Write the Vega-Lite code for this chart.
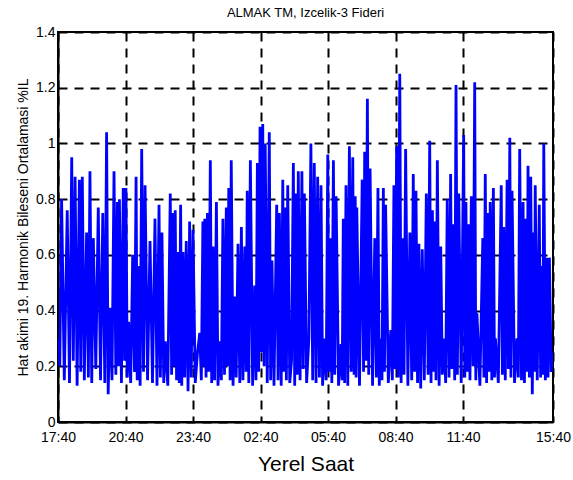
{
  "$schema": "https://vega.github.io/schema/vega-lite/v6.json",
  "width": 495,
  "height": 390,
  "autosize": {"type": "none"},
  "padding": {"left": 58, "top": 32, "right": 20, "bottom": 58},
  "background": "white",
  "title": {"text": "ALMAK TM, Izcelik-3 Fideri", "fontSize": 13, "fontWeight": "normal", "font": "Liberation Sans", "color": "black", "offset": 5, "anchor": "middle"},
  "data": {"values": [
    {"t":0.00,"v":0.30},{"t":0.08,"v":0.20},{"t":0.16,"v":0.80},{"t":0.28,"v":0.15},{"t":0.41,"v":0.76},{"t":0.51,"v":0.14},{"t":0.61,"v":0.95},{"t":0.68,"v":0.22},{"t":0.76,"v":0.88},{"t":0.85,"v":0.13},
    {"t":0.95,"v":0.87},{"t":1.01,"v":0.18},{"t":1.08,"v":0.88},{"t":1.17,"v":0.15},{"t":1.27,"v":0.68},{"t":1.35,"v":0.16},{"t":1.42,"v":0.90},{"t":1.50,"v":0.14},{"t":1.57,"v":0.66},{"t":1.68,"v":0.19},
    {"t":1.79,"v":0.77},{"t":1.89,"v":0.15},{"t":1.99,"v":0.75},{"t":2.08,"v":0.14},{"t":2.16,"v":1.04},{"t":2.23,"v":0.10},{"t":2.31,"v":0.41},{"t":2.40,"v":0.15},{"t":2.49,"v":0.90},{"t":2.57,"v":0.17},
    {"t":2.64,"v":0.79},{"t":2.69,"v":0.20},{"t":2.73,"v":0.80},{"t":2.82,"v":0.14},{"t":2.90,"v":0.84},{"t":2.96,"v":0.22},{"t":3.02,"v":0.84},{"t":3.08,"v":0.16},{"t":3.14,"v":0.36},{"t":3.23,"v":0.14},
    {"t":3.32,"v":0.60},{"t":3.40,"v":0.18},{"t":3.47,"v":0.88},{"t":3.52,"v":0.15},{"t":3.57,"v":0.56},{"t":3.65,"v":0.13},{"t":3.72,"v":0.98},{"t":3.80,"v":0.18},{"t":3.87,"v":0.85},{"t":3.98,"v":0.15},
    {"t":4.09,"v":0.65},{"t":4.20,"v":0.14},{"t":4.31,"v":0.73},{"t":4.40,"v":0.13},{"t":4.49,"v":0.78},{"t":4.55,"v":0.16},{"t":4.62,"v":0.68},{"t":4.70,"v":0.14},{"t":4.77,"v":0.29},{"t":4.88,"v":0.13},
    {"t":4.99,"v":0.82},{"t":5.05,"v":0.17},{"t":5.11,"v":0.75},{"t":5.16,"v":0.20},{"t":5.21,"v":0.76},{"t":5.27,"v":0.15},{"t":5.33,"v":0.61},{"t":5.39,"v":0.14},{"t":5.45,"v":0.78},{"t":5.50,"v":0.13},
    {"t":5.56,"v":0.61},{"t":5.63,"v":0.16},{"t":5.70,"v":0.65},{"t":5.78,"v":0.11},{"t":5.85,"v":0.72},{"t":5.92,"v":0.16},{"t":6.00,"v":0.69},{"t":6.10,"v":0.14},{"t":6.20,"v":0.25},{"t":6.30,"v":0.32},
    {"t":6.37,"v":0.15},{"t":6.44,"v":0.72},{"t":6.48,"v":0.20},{"t":6.52,"v":0.73},{"t":6.58,"v":0.16},{"t":6.64,"v":0.75},{"t":6.70,"v":0.18},{"t":6.77,"v":0.94},{"t":6.83,"v":0.14},{"t":6.89,"v":0.63},
    {"t":6.96,"v":0.15},{"t":7.04,"v":0.79},{"t":7.11,"v":0.13},{"t":7.19,"v":0.29},{"t":7.26,"v":0.15},{"t":7.33,"v":0.73},{"t":7.40,"v":0.17},{"t":7.48,"v":0.77},{"t":7.53,"v":0.20},{"t":7.59,"v":0.84},
    {"t":7.65,"v":0.15},{"t":7.70,"v":0.94},{"t":7.78,"v":0.13},{"t":7.85,"v":0.45},{"t":7.92,"v":0.16},{"t":8.00,"v":0.64},{"t":8.08,"v":0.14},{"t":8.15,"v":0.70},{"t":8.22,"v":0.15},{"t":8.30,"v":0.63},
    {"t":8.36,"v":0.18},{"t":8.41,"v":0.83},{"t":8.48,"v":0.14},{"t":8.55,"v":0.94},{"t":8.65,"v":0.13},{"t":8.74,"v":0.49},{"t":8.80,"v":0.15},{"t":8.86,"v":0.93},{"t":8.92,"v":0.18},{"t":8.98,"v":1.06},
    {"t":9.04,"v":0.25},{"t":9.10,"v":1.07},{"t":9.16,"v":0.20},{"t":9.21,"v":1.00},{"t":9.30,"v":0.14},{"t":9.39,"v":1.04},{"t":9.45,"v":0.15},{"t":9.51,"v":0.58},{"t":9.60,"v":0.13},{"t":9.72,"v":0.78},
    {"t":9.78,"v":0.15},{"t":9.84,"v":0.75},{"t":9.92,"v":0.13},{"t":9.99,"v":0.87},{"t":10.04,"v":0.18},{"t":10.09,"v":0.77},{"t":10.15,"v":0.15},{"t":10.21,"v":0.85},{"t":10.30,"v":0.14},{"t":10.38,"v":0.22},
    {"t":10.46,"v":0.93},{"t":10.52,"v":0.13},{"t":10.58,"v":0.82},{"t":10.63,"v":0.17},{"t":10.68,"v":0.90},{"t":10.76,"v":0.15},{"t":10.84,"v":0.90},{"t":10.90,"v":0.19},{"t":10.95,"v":0.82},{"t":11.05,"v":0.14},
    {"t":11.15,"v":0.30},{"t":11.24,"v":1.00},{"t":11.32,"v":0.15},{"t":11.39,"v":0.93},{"t":11.47,"v":0.14},{"t":11.54,"v":0.88},{"t":11.62,"v":0.16},{"t":11.69,"v":0.85},{"t":11.76,"v":0.13},{"t":11.84,"v":0.30},
    {"t":11.92,"v":0.15},{"t":11.99,"v":0.96},{"t":12.04,"v":0.18},{"t":12.09,"v":0.66},{"t":12.17,"v":0.14},{"t":12.24,"v":0.94},{"t":12.30,"v":0.17},{"t":12.36,"v":0.81},{"t":12.47,"v":0.13},{"t":12.58,"v":0.28},
    {"t":12.63,"v":0.15},{"t":12.68,"v":0.73},{"t":12.74,"v":0.14},{"t":12.80,"v":0.85},{"t":12.88,"v":0.13},{"t":12.95,"v":0.99},{"t":13.03,"v":0.18},{"t":13.10,"v":0.95},{"t":13.16,"v":0.17},{"t":13.21,"v":0.81},
    {"t":13.25,"v":0.16},{"t":13.28,"v":0.77},{"t":13.40,"v":0.13},{"t":13.52,"v":0.87},{"t":13.58,"v":0.18},{"t":13.63,"v":0.97},{"t":13.69,"v":0.22},{"t":13.75,"v":1.16},{"t":13.81,"v":0.17},{"t":13.87,"v":0.91},
    {"t":13.98,"v":0.13},{"t":14.08,"v":0.66},{"t":14.15,"v":0.16},{"t":14.22,"v":0.84},{"t":14.28,"v":0.13},{"t":14.34,"v":0.30},{"t":14.40,"v":0.15},{"t":14.46,"v":0.84},{"t":14.51,"v":0.18},{"t":14.56,"v":0.78},
    {"t":14.68,"v":0.14},{"t":14.79,"v":0.33},{"t":14.86,"v":0.15},{"t":14.93,"v":0.85},{"t":14.99,"v":0.19},{"t":15.05,"v":0.99},{"t":15.12,"v":0.16},{"t":15.19,"v":1.25},{"t":15.25,"v":0.14},{"t":15.30,"v":0.66},
    {"t":15.38,"v":0.17},{"t":15.45,"v":0.98},{"t":15.55,"v":0.13},{"t":15.64,"v":0.68},{"t":15.72,"v":0.15},{"t":15.79,"v":0.89},{"t":15.85,"v":0.18},{"t":15.91,"v":0.83},{"t":15.98,"v":0.14},{"t":16.04,"v":0.64},
    {"t":16.12,"v":0.12},{"t":16.19,"v":0.62},{"t":16.28,"v":0.15},{"t":16.37,"v":0.82},{"t":16.45,"v":0.17},{"t":16.52,"v":1.01},{"t":16.58,"v":0.14},{"t":16.64,"v":0.76},{"t":16.69,"v":0.18},{"t":16.74,"v":0.72},
    {"t":16.80,"v":0.15},{"t":16.86,"v":0.94},{"t":16.94,"v":0.13},{"t":17.01,"v":0.63},{"t":17.08,"v":0.17},{"t":17.16,"v":0.30},{"t":17.23,"v":0.14},{"t":17.30,"v":0.80},{"t":17.38,"v":0.16},{"t":17.45,"v":0.89},
    {"t":17.51,"v":0.19},{"t":17.57,"v":0.71},{"t":17.63,"v":0.15},{"t":17.69,"v":1.21},{"t":17.75,"v":0.17},{"t":17.81,"v":0.82},{"t":17.92,"v":0.14},{"t":18.03,"v":1.03},{"t":18.08,"v":0.16},{"t":18.13,"v":0.79},
    {"t":18.19,"v":0.18},{"t":18.25,"v":0.71},{"t":18.31,"v":0.15},{"t":18.37,"v":0.81},{"t":18.45,"v":0.20},{"t":18.52,"v":1.22},{"t":18.57,"v":0.15},{"t":18.62,"v":0.39},{"t":18.75,"v":0.13},{"t":18.88,"v":0.66},
    {"t":18.93,"v":0.16},{"t":18.99,"v":0.89},{"t":19.05,"v":0.14},{"t":19.11,"v":0.75},{"t":19.16,"v":0.18},{"t":19.21,"v":0.79},{"t":19.28,"v":0.15},{"t":19.35,"v":0.84},{"t":19.40,"v":0.16},{"t":19.44,"v":0.30},
    {"t":19.57,"v":0.14},{"t":19.70,"v":0.85},{"t":19.75,"v":0.17},{"t":19.81,"v":0.70},{"t":19.88,"v":0.15},{"t":19.96,"v":0.87},{"t":20.02,"v":0.19},{"t":20.08,"v":1.02},{"t":20.13,"v":0.16},{"t":20.18,"v":0.83},
    {"t":20.29,"v":0.14},{"t":20.40,"v":0.30},{"t":20.46,"v":0.16},{"t":20.52,"v":0.98},{"t":20.60,"v":0.15},{"t":20.67,"v":0.79},{"t":20.73,"v":0.14},{"t":20.80,"v":0.73},{"t":20.85,"v":0.18},{"t":20.89,"v":0.92},
    {"t":20.95,"v":0.16},{"t":21.01,"v":0.88},{"t":21.08,"v":0.10},{"t":21.14,"v":0.68},{"t":21.17,"v":0.18},{"t":21.21,"v":0.85},{"t":21.30,"v":0.15},{"t":21.39,"v":0.78},{"t":21.45,"v":0.16},{"t":21.51,"v":0.56},
    {"t":21.55,"v":0.17},{"t":21.59,"v":1.00},{"t":21.66,"v":0.15},{"t":21.73,"v":0.59},{"t":21.78,"v":0.16},{"t":21.84,"v":0.59},{"t":21.92,"v":0.18},{"t":22.00,"v":0.25}
  ]},
  "mark": {"type": "line", "color": "#0000ff", "strokeWidth": 2.8, "strokeJoin": "bevel", "clip": true},
  "encoding": {
    "x": {
      "field": "t", "type": "quantitative",
      "scale": {"domain": [0, 22], "nice": false, "zero": false},
      "axis": {
        "values": [0, 3, 6, 9, 12, 15, 18, 22],
        "labelExpr": "(((17 + datum.value) % 24) < 10 ? '0' : '') + ((17 + datum.value) % 24) + ':40'",
        "labelFlush": false, "labelOverlap": false, "labelPadding": 8,
        "title": "Yerel Saat", "titleFontSize": 21, "titlePadding": 9
      }
    },
    "y": {
      "field": "v", "type": "quantitative",
      "scale": {"domain": [0, 1.4], "nice": false},
      "axis": {
        "values": [0, 0.2, 0.4, 0.6, 0.8, 1, 1.2, 1.4],
        "format": ".1~f", "labelPadding": 3,
        "title": "Hat akimi 19. Harmonik Bileseni Ortalamasi %IL", "titleFontSize": 14, "titlePadding": 5
      }
    }
  },
  "config": {
    "font": "Liberation Sans",
    "view": {"stroke": "black", "strokeWidth": 2},
    "axis": {
      "zindex": 1,
      "grid": true, "gridColor": "black", "gridDash": [9, 7], "gridWidth": 2, "gridOpacity": 1,
      "domain": true, "domainColor": "black", "domainWidth": 2,
      "ticks": false,
      "labelFont": "Liberation Sans", "labelFontSize": 14, "labelColor": "black",
      "titleFont": "Liberation Sans", "titleFontWeight": "normal", "titleColor": "black"
    }
  }
}
